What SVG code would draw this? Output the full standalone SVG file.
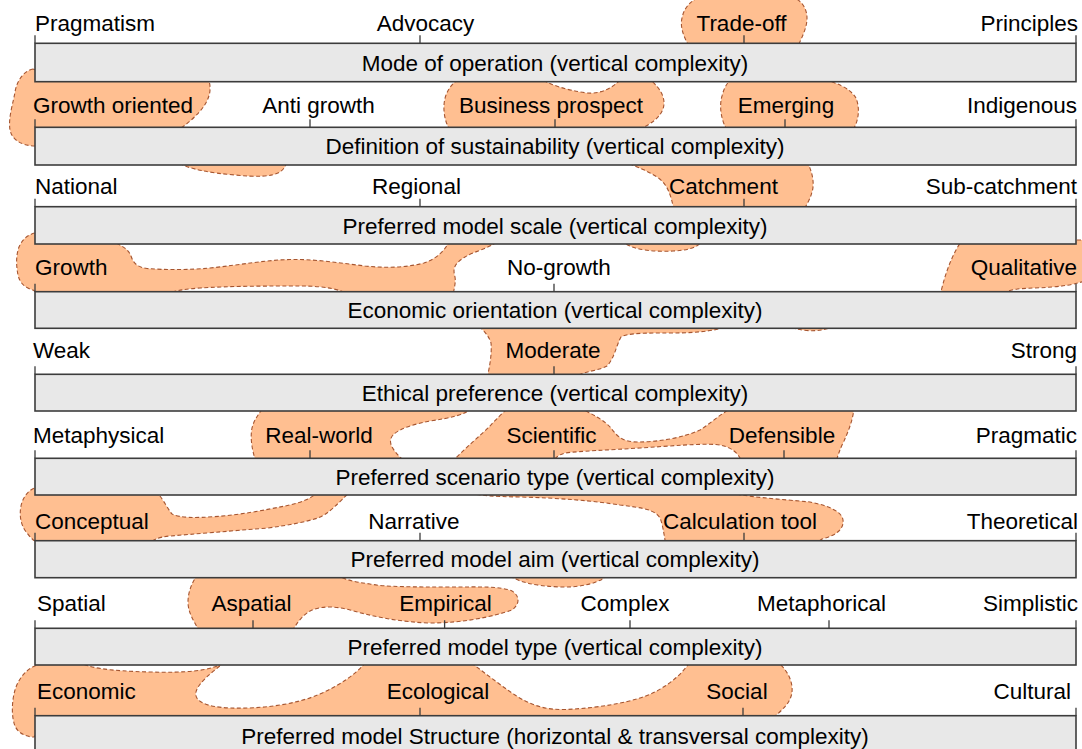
<svg xmlns="http://www.w3.org/2000/svg" width="1082" height="749" viewBox="0 0 1082 749">
  <style>
    .blob { fill: #ffbf91; stroke: #a65530; stroke-width: 1.1; stroke-dasharray: 4 2.5; }
    .bar { fill: #e8e8e8; stroke: #3c3c3c; stroke-width: 1.6; }
    .tick { stroke: #3c3c3c; stroke-width: 1.3; }
    text { font-family: "Liberation Sans", Arial, sans-serif; font-size: 22.5px; fill: #000; }
    .m { text-anchor: middle; }
    .e { text-anchor: end; }
  </style>
  <rect width="1082" height="749" fill="#fff"/>

  <!-- highlighted profile regions, drawn beneath the bars -->
  <g id="profile">
    <path class="blob" d="M 689,46 C 683,36 680,26 682,18 C 684,8 690,1 700,-3 L 792,-3 C 802,0 807,9 807,18 C 807,28 802,37 798,46 Z"/>
    <path class="blob" d="M 33,69 C 24,71 17,80 15,92 C 13,104 8,118 10,130 C 12,140 22,146 36,146 L 120,160 L 181,164 C 190,169 210,173 235,175 C 255,177 272,177 280,172 C 284,169 286,166 287,160 L 178,130 C 186,125 198,115 204,106 C 210,97 212,88 208,78 L 40,72 Z"/>
    <path class="blob" d="M 450,130 C 444,121 442,106 446,95 C 449,87 454,82 460,78 L 540,78 C 548,84 565,90 587,93 C 600,94 612,89 622,78 L 648,78 C 656,84 664,93 664,103 C 664,113 656,122 638,130 Z"/>
    <path class="blob" d="M 727,130 C 721,120 719,106 722,96 C 724,88 727,83 732,78 L 815,78 C 835,81 850,88 856,98 C 860,108 859,120 853,130 Z"/>
    <path class="blob" d="M 674,210 C 671,196 668,184 657,177 C 646,170 635,166 620,160 L 806,160 C 812,170 815,183 812,192 C 810,200 806,205 804,210 L 702,240 C 700,246 692,250 673,251 C 655,252 635,250 626,244 L 622,240 Z"/>
    <path class="blob" d="M 40,230 L 110,240 C 120,245 128,248 131,256 C 133,262 136,267 147,268.5 C 165,270 190,270 210,268 C 240,265 265,260 290,259.5 C 315,259 340,263 365,266 C 385,268 405,268 424,263 C 436,259 445,251 450,240 L 500,240 C 490,248 475,251 465,257 C 453,264 453,270 455,277 C 456,283 454,288 453,296 L 352,296 C 340,289 325,286 300,286 C 270,286 230,286 200,288 C 185,289 172,291 160,296 L 40,296 C 37,293 35,291 33,290 C 26,288 20,284 18,275 C 16,265 16,255 19,247 C 22,240 27,235 35,233 Z"/>
    <path class="blob" d="M 940,296 C 944,278 950,258 962,240 L 1090,240 L 1090,279 C 1075,285 1060,287 1035,288 C 1015,288.5 1005,290 1000,296 Z"/>
    <path class="blob" d="M 487,378 C 490,366 492,352 491,343 C 489,336 484,331 478,325 L 728,325 C 722,330 700,333 670,333 C 645,333 628,333 621,337 C 616,346 615,357 607,366 C 598,371 584,371 572,378 Z"/>
    <path class="blob" d="M 786,325 C 795,331 822,334 836,325 Z"/>
    <path class="blob" d="M 256,462 C 252,450 250,438 252,428 C 254,420 258,415 263,408 L 472,408 C 465,415 450,418 430,421 C 415,424 400,428 393,435 C 387,442 392,450 405,462 Z"/>
    <path class="blob" d="M 452,462 C 465,448 480,436 490,426 C 497,418 503,413 508,408 L 580,408 C 592,414 604,420 611,428 C 617,436 622,442 638,442 C 660,442 685,437 700,430 C 710,424 720,414 732,408 L 854,408 C 853,420 848,432 844,441 C 840,449 838,455 836,462 L 742,462 C 738,452 730,446 716,444.5 C 700,443.5 670,446 640,448 C 610,450 580,451 565,453 C 558,455 555,458 553,462 Z"/>
    <path class="blob" d="M 40,486 C 30,488 23,496 21,506 C 19,516 21,526 27,533 C 30,537 33,540 36,542 L 148,545 C 152,540 158,537 170,536 C 195,534 230,531 268,528 C 290,525 305,522 318,518 C 330,513 338,503 352,490 L 318,490 C 315,498 300,503 285,506 C 265,510 240,515 214,516.7 C 195,518 180,518 172,514 C 167,508 164,500 155,490 Z"/>
    <path class="blob" d="M 458,490 L 720,490 C 740,497 780,499 810,502 C 830,506 842,512 843,520 C 844,528 838,535 822,539 C 818,542 815,544 810,546 L 666,546 C 664,535 663,525 660,518 C 655,510 645,508 620,505 C 595,501 560,498 520,497 C 495,496.5 475,496 458,490 Z"/>
    <path class="blob" d="M 505,572 C 515,582 535,586 560,587 C 580,587.5 600,584 612,572 Z"/>
    <path class="blob" d="M 198,574 C 192,582 188,592 188,602 C 188,612 193,620 200,632 L 292,632 C 296,624 303,614 312,610 C 322,606 335,606 350,610 C 375,617 400,622 430,623 C 465,623 495,616 512,610 C 520,604 520,596 512,591 C 500,586 480,587 450,587 C 415,587 385,587 370,584 C 355,582 345,580 335,574 Z"/>
    <path class="blob" d="M 40,660 L 76,660 C 85,668 110,671 150,672 C 185,673 212,671 225,662 C 212,672 198,683 196,692 C 194,701 205,707 230,708 C 260,709 295,705 320,694 C 340,685 355,675 366,662 L 470,662 C 485,673 500,685 515,695 C 530,705 545,710 565,709.5 C 600,708 635,702 655,692 C 670,684 682,674 690,662 L 778,662 C 788,671 793,682 792,692 C 791,702 783,710 770,720 L 40,720 C 37,730 36,735 34,737 C 26,737 18,733 15,726 C 11,716 12,700 15,690 C 18,680 25,670 35,666 Z"/>
  </g>

  <g id="row-mode">
    <rect class="bar" x="35" y="43.3" width="1041" height="38.4"/>
    <path class="tick" d="M35,35.3V43.3 M420,35.3V43.3 M744,35.3V43.3 M1076,35.3V43.3"/>
    <text x="35" y="31">Pragmatism</text>
    <text class="m" x="425.5" y="31">Advocacy</text>
    <text class="m" x="741.5" y="31">Trade-off</text>
    <text class="e" x="1078" y="31">Principles</text>
    <text class="m" x="555" y="70.5">Mode of operation (vertical complexity)</text>
  </g>

  <g id="row-sustainability">
    <rect class="bar" x="35" y="127.3" width="1041" height="37.7"/>
    <path class="tick" d="M35,119.3V127.3 M310,119.3V127.3 M555,119.3V127.3 M785,119.3V127.3 M1076,119.3V127.3"/>
    <text x="33" y="112.5">Growth oriented</text>
    <text class="m" x="318.5" y="112.5">Anti growth</text>
    <text class="m" x="551" y="112.5">Business prospect</text>
    <text class="m" x="786" y="112.5">Emerging</text>
    <text class="e" x="1077" y="112.5">Indigenous</text>
    <text class="m" x="555" y="154">Definition of sustainability (vertical complexity)</text>
  </g>

  <g id="row-scale">
    <rect class="bar" x="35" y="206.7" width="1041" height="37.3"/>
    <path class="tick" d="M35,198.7V206.7 M420,198.7V206.7 M744,198.7V206.7 M1076,198.7V206.7"/>
    <text x="35" y="194">National</text>
    <text class="m" x="416.5" y="194">Regional</text>
    <text class="m" x="723.5" y="194">Catchment</text>
    <text class="e" x="1077" y="194">Sub-catchment</text>
    <text class="m" x="555" y="233.5">Preferred model scale (vertical complexity)</text>
  </g>

  <g id="row-economic">
    <rect class="bar" x="35" y="291.7" width="1041" height="36.6"/>
    <path class="tick" d="M35,283.7V291.7 M554,283.7V291.7 M1076,283.7V291.7"/>
    <text x="35" y="274.5">Growth</text>
    <text class="m" x="559" y="274.5">No-growth</text>
    <text class="e" x="1077" y="274.5">Qualitative</text>
    <text class="m" x="555" y="318">Economic orientation (vertical complexity)</text>
  </g>

  <g id="row-ethical">
    <rect class="bar" x="35" y="374.3" width="1041" height="36.7"/>
    <path class="tick" d="M35,366.3V374.3 M554,366.3V374.3 M1076,366.3V374.3"/>
    <text x="33" y="357.5">Weak</text>
    <text class="m" x="553" y="357.5">Moderate</text>
    <text class="e" x="1077" y="357.5">Strong</text>
    <text class="m" x="555" y="400.7">Ethical preference (vertical complexity)</text>
  </g>

  <g id="row-scenario">
    <rect class="bar" x="35" y="458.3" width="1041" height="36.7"/>
    <path class="tick" d="M35,450.3V458.3 M310,450.3V458.3 M554,450.3V458.3 M784,450.3V458.3 M1076,450.3V458.3"/>
    <text x="33" y="443">Metaphysical</text>
    <text class="m" x="319" y="443">Real-world</text>
    <text class="m" x="551.5" y="443">Scientific</text>
    <text class="m" x="782" y="443">Defensible</text>
    <text class="e" x="1077" y="443">Pragmatic</text>
    <text class="m" x="555" y="484.7">Preferred scenario type (vertical complexity)</text>
  </g>

  <g id="row-aim">
    <rect class="bar" x="35" y="540.7" width="1041" height="37"/>
    <path class="tick" d="M35,532.7V540.7 M420,532.7V540.7 M744,532.7V540.7 M1076,532.7V540.7"/>
    <text x="35" y="528.5">Conceptual</text>
    <text class="m" x="414" y="528.5">Narrative</text>
    <text class="m" x="740" y="528.5">Calculation tool</text>
    <text class="e" x="1078" y="528.5">Theoretical</text>
    <text class="m" x="555" y="567">Preferred model aim (vertical complexity)</text>
  </g>

  <g id="row-type">
    <rect class="bar" x="35" y="628.3" width="1041" height="36.7"/>
    <path class="tick" d="M35,620.3V628.3 M253,620.3V628.3 M444.6,620.3V628.3 M630,620.3V628.3 M829,620.3V628.3 M1076,620.3V628.3"/>
    <text x="37" y="610.5">Spatial</text>
    <text class="m" x="251.5" y="610.5">Aspatial</text>
    <text class="m" x="445.5" y="610.5">Empirical</text>
    <text class="m" x="625" y="610.5">Complex</text>
    <text class="m" x="821.5" y="610.5">Metaphorical</text>
    <text class="e" x="1078" y="610.5">Simplistic</text>
    <text class="m" x="555" y="654.7">Preferred model type (vertical complexity)</text>
  </g>

  <g id="row-structure">
    <rect class="bar" x="35" y="715.7" width="1041" height="45"/>
    <path class="tick" d="M35,707.7V715.7 M420,707.7V715.7 M743,707.7V715.7 M1076,707.7V715.7"/>
    <text x="37" y="698.5">Economic</text>
    <text class="m" x="438" y="698.5">Ecological</text>
    <text class="m" x="737" y="698.5">Social</text>
    <text class="e" x="1071" y="698.5">Cultural</text>
    <text class="m" x="555" y="744">Preferred model Structure (horizontal &amp; transversal complexity)</text>
  </g>
</svg>
